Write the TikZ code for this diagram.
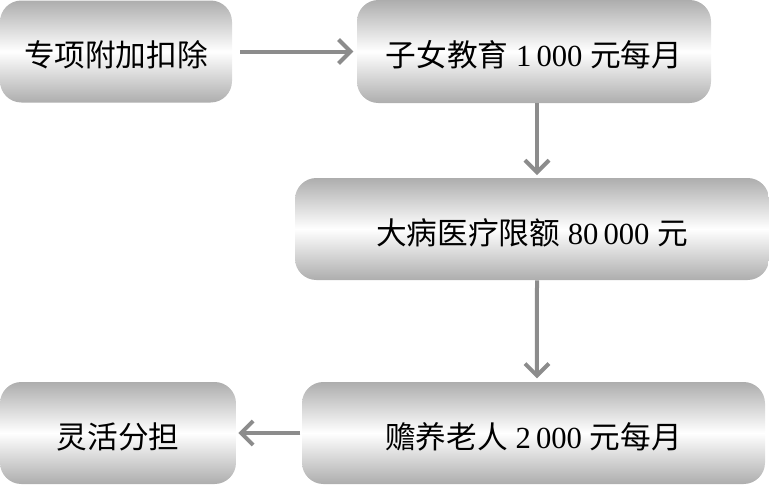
\documentclass[tikz,border=0pt]{standalone}
\usepackage{fontspec}
\setmainfont{Liberation Serif}
\newfontfamily\cjk{Noto Sans CJK SC}
\usetikzlibrary{arrows.meta}
\begin{document}
\begin{tikzpicture}[x=0.75pt,y=-0.75pt,
  box/.style={rounded corners=16pt, top color=black!32, bottom color=black!32, middle color=white, draw=none,
    inner sep=0pt, text height=25.5pt, text depth=2.6pt, font=\fontsize{23}{26}\selectfont},
  conn/.style={draw=black!45, line width=3pt, -{Straight Barb[length=9pt,width=18pt,line width=3pt]}}]
\useasboundingbox (0,0) rectangle (769,486);
\node[box, minimum width=174pt, minimum height=76.5pt] (a) at (116,51.5) {\cjk 专项附加扣除};
\node[box, minimum width=265.5pt, minimum height=77.25pt] (b) at (534,51.5) {{\cjk 子女教育} 1\,000 {\cjk 元每月}};
\node[box, minimum width=355.5pt, minimum height=76.5pt] (c) at (532,229) {{\cjk 大病医疗限额} 80\,000 {\cjk 元}};
\node[box, minimum width=347.25pt, minimum height=76.5pt] (d) at (533.5,433) {{\cjk 赡养老人} 2\,000 {\cjk 元每月}};
\node[box, minimum width=177pt, minimum height=76.5pt] (e) at (118,433) {\cjk 灵活分担};
\draw[conn, shorten <=6pt, shorten >=2.5pt] (a.east) -- (a.east -| b.west);
\draw[conn, shorten >=2pt] ([xshift=2.25pt]b.south) -- ([xshift=3.75pt]c.north);
\draw[conn, shorten >=2.5pt] ([xshift=3.75pt]c.south) -- ([xshift=2.6pt]d.north);
\draw[conn, shorten <=1pt, shorten >=1.5pt] (d.west) -- (d.west -| e.east);
\end{tikzpicture}
\end{document}
